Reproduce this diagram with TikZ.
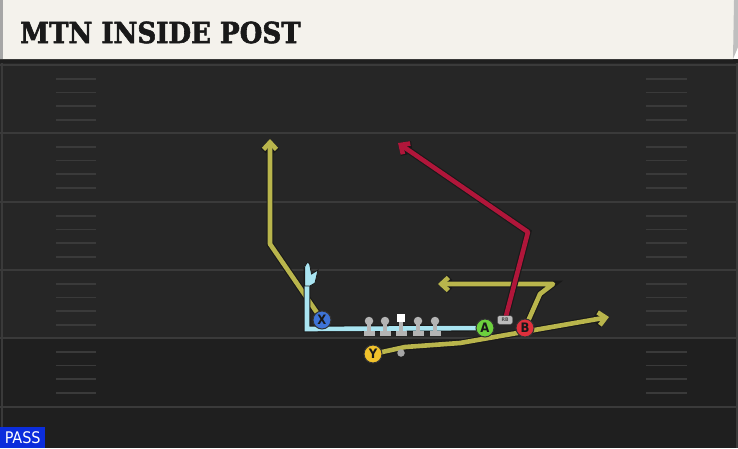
\documentclass[tikz,border=0pt]{standalone}
\usepackage{fontspec}
\usepackage{tikz}
\usetikzlibrary{arrows.meta}
\setsansfont{DejaVu Sans Condensed}
\newfontfamily\titlefont{DejaVu Serif Condensed}[BoldFeatures={FakeBold=2}]
\definecolor{field}{HTML}{262626}
\definecolor{fielddark}{HTML}{1F1F1F}
\definecolor{yardline}{HTML}{3A3A3A}
\definecolor{banner}{HTML}{F4F2EC}
\definecolor{routeyellow}{HTML}{B9B54C}
\definecolor{routered}{HTML}{B0163A}
\definecolor{motionblue}{HTML}{A9E4F1}
\definecolor{xblue}{HTML}{3E74D8}
\definecolor{agreen}{HTML}{6CD13D}
\definecolor{bred}{HTML}{DF303C}
\definecolor{yyellow}{HTML}{F1C22B}
\definecolor{linegrey}{HTML}{B4B4B4}
\definecolor{passblue}{HTML}{0B2DDC}
\pgfdeclarelayer{turf}
\pgfdeclarelayer{routes}
\pgfsetlayers{turf,routes,main}
\tikzset {
  % lettered players
  main/.style = {draw=black!80, circle, line width=1pt, minimum size=18pt, inner sep=0pt,
    font=\sffamily\bfseries\fontsize{13}{13}\selectfont, text=black!90},
  % offensive line
  lineman/.style = {circle, fill=linegrey, minimum size=8.5pt, inner sep=0pt},
  snapper/.style = {fill=white, minimum size=8.5pt, inner sep=0pt},
  rbtag/.style = {fill=linegrey!90, draw=black!70, rounded corners=2pt, minimum width=15pt,
    minimum height=8.5pt, inner sep=0pt, font=\sffamily\bfseries\fontsize{5}{5}\selectfont, text=black!70},
  qb/.style = {circle, fill=gray!70, minimum size=7.5pt, inner sep=0pt},
  % routes and motion
  route/.style = {line width=4.6pt, line join=round,
    preaction={draw=black!90, line width=6.8pt},
    -{Straight Barb[length=7pt, width=13pt]}},
  motion/.style = {draw=motionblue, line width=4.6pt, line join=miter,
    preaction={draw=black!90, line width=6.8pt}},
  % field markings
  yardline/.style = {draw=yardline, line width=2pt},
  hash/.style = {draw=yardline, line width=1.6pt},
}

\begin{document}
\begin{tikzpicture}[x=1pt, y=-1pt]
  \useasboundingbox (0,0) rectangle (738,448);

  \begin{pgfonlayer}{turf}
    \fill[field] (0,59) rectangle (738,448);
    \fill[fielddark] (0,339) rectangle (738,448);
    \fill[black!88] (0,59) rectangle (738,63);
    \draw[yardline] (1.5,63) -- (1.5,448);
    \draw[yardline] (736.5,63) -- (736.5,448);
    \foreach \ly in {65,133,202,270,338,407}
      \draw[yardline] (0,\ly) -- (738,\ly);
    \foreach \ly in {65,133,202,270,338}
      \foreach \k in {1,...,4} {
        \draw[hash] (56,\ly+13.7*\k) -- (96,\ly+13.7*\k);
        \draw[hash] (646,\ly+13.7*\k) -- (687,\ly+13.7*\k);
      }
    % title bar
    \fill[banner] (0,0) -- (738,0) -- (738,47) -- (733,59) -- (0,59) -- cycle;
    \fill[black!35] (0,0) rectangle (3,59);
    \fill[black!25] (734,0) -- (738,0) -- (738,47) -- (733,59) -- cycle;
  \end{pgfonlayer}

  \node[anchor=west, inner sep=0pt, text=black!90,
    font=\titlefont\bfseries\fontsize{29}{29}\selectfont] (title) at (20,32.5) {MTN INSIDE POST};
  \node[fill=passblue, text=white, anchor=south west, minimum width=45pt, minimum height=21pt,
    inner sep=0pt, font=\sffamily\fontsize{16}{16}\selectfont] (pass) at (0,448) {PASS};

  % formation
  \foreach \ox in {369,385,401,418,435} {
    \fill[linegrey] (\ox-2,321) rectangle (\ox+2,332);
    \fill[linegrey] (\ox-5.5,331) rectangle (\ox+5.5,336);
  }
  \foreach \ox [count=\i] in {369,385,418,435}
    \node[lineman] (ol\i) at (\ox,321) {};
  \node[snapper] (c) at (401,318) {};
  \node[qb] (qb) at (401,353) {};
  \node[main, fill=xblue] (x) at (322,320) {X};
  \node[main, fill=agreen] (a) at (485,328) {A};
  \node[main, fill=bred] (b) at (525,328) {B};
  \node[main, fill=yyellow] (y) at (373,354) {Y};
  \node[rbtag] (rb) at (505,320) {RB};

  \coordinate (x1) at (270,244);
  \coordinate (x2) at (270,139);
  \coordinate (b1) at (540,294);
  \coordinate (b2) at (553,284);
  \coordinate (b3) at (438,284);
  \coordinate (r1) at (528,232);
  \coordinate (r2) at (398,143);
  \coordinate (y1) at (405,347);
  \coordinate (y2) at (460,343);
  \coordinate (y3) at (609,317);
  \coordinate (m1) at (307,329);
  \coordinate (m2) at (307,266);

  \begin{pgfonlayer}{routes}
    \draw[route, draw=routeyellow] (x.center) -- (x1) -- (x2);
    \draw[route, draw=routeyellow] (b.center) -- (b1) -- (b2) -- (b3);
    \draw[route, draw=routeyellow] (y.center) -- (y1) -- (y2) -- (y3);
    \draw[route, draw=routered] (rb.center) -- (r1) -- (r2);
    \draw[motion] (a.center) -- (m1) -- (m2);
    \filldraw[fill=motionblue, draw=black!90, line width=0.8pt]
      (304.6,267) -- (307,262.5) -- (309.5,263.5) -- (311.5,274) -- (318,270) -- (315,283) -- (310,286) -- (304.6,286) -- cycle;
  \end{pgfonlayer}
\end{tikzpicture}
\end{document}
